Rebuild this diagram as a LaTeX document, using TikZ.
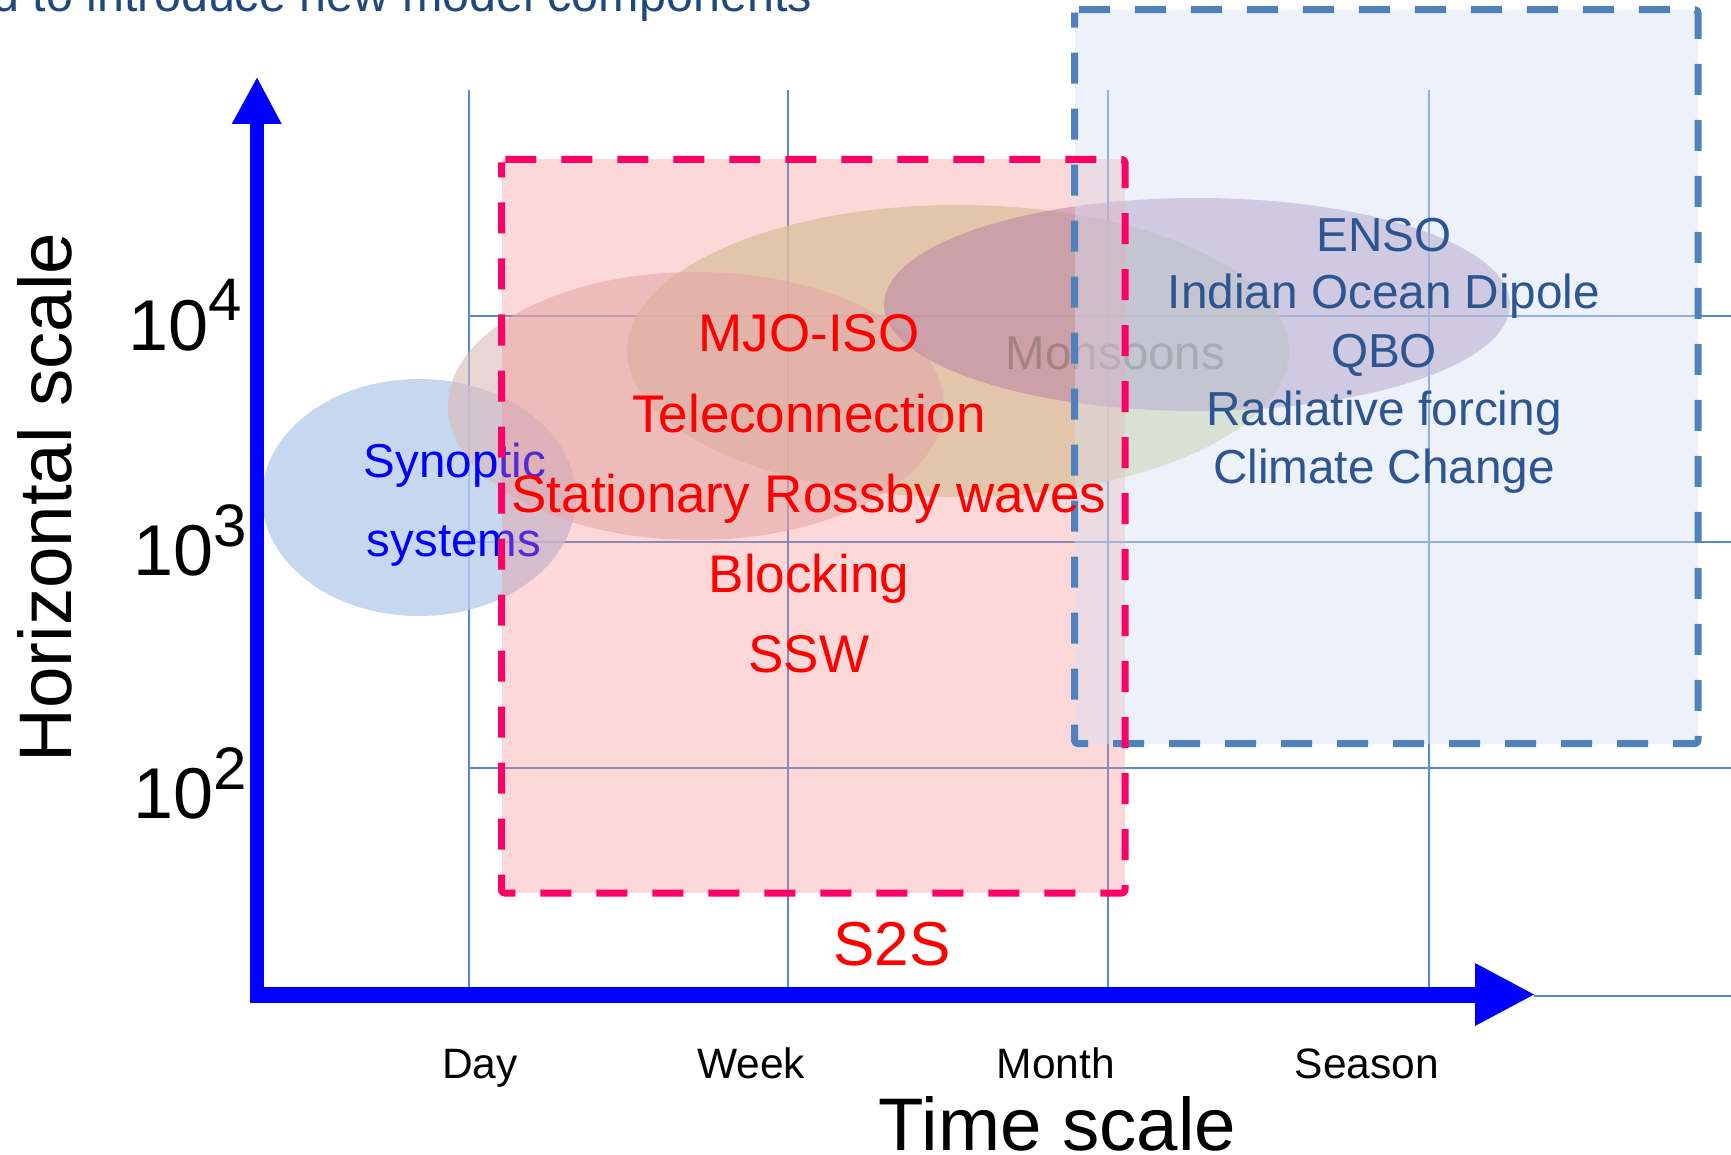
\documentclass[tikz,border=0pt]{standalone}
\usepackage{fontspec}
\setmainfont{Liberation Sans}
\definecolor{gridc}{RGB}{84,138,212}
\definecolor{axisc}{RGB}{0,0,255}
\definecolor{pinkline}{RGB}{255,0,102}
\definecolor{blueline}{RGB}{79,129,189}
\definecolor{pinkfill}{RGB}{249,135,135}
\definecolor{bluefill}{RGB}{215,224,242}
\definecolor{olivefill}{RGB}{205,221,172}
\definecolor{synfill}{RGB}{182,206,236}
\definecolor{rosefill}{RGB}{220,185,185}
\definecolor{purplefill}{RGB}{163,138,181}
\definecolor{darkblue}{RGB}{45,85,145}
\definecolor{topblue}{RGB}{31,73,125}
\definecolor{monsoongrey}{RGB}{128,128,128}
\newcommand{\myfs}[1]{\fontsize{#1}{#1}\selectfont}
\begin{document}
\begin{tikzpicture}[x=1pt,y=-1pt,
  every node/.style={inner sep=0pt,outer sep=0pt},
  gridline/.style={draw=gridc,line width=2.2pt},
  redtxt/.style={anchor=base,text=red,font=\myfs{53}},
  rbtxt/.style={anchor=base,text=darkblue,font=\myfs{47.7}},
  ticktxt/.style={anchor=base,text=black,font=\myfs{42.5}},
  titletxt/.style={anchor=base,text=black,font=\myfs{74.5}},
  exptxt/.style={anchor=base east,text=black,font=\myfs{72}},
  pinkbox/.style={draw=pinkline,line width=7pt,dash pattern=on 31pt off 25pt,dash phase=16pt,line join=round,rounded corners=3pt},
  bluebox/.style={draw=blueline,line width=7pt,dash pattern=on 31pt off 25pt,dash phase=16pt,line join=round,rounded corners=3pt}]
\useasboundingbox (0,0) rectangle (1731,1155);
\clip (0,0) rectangle (1731,1155);

% top (cut) caption
\node[anchor=base east,text=topblue,font=\myfs{48.5}] (toptext) at (812,12) {Need to introduce new model components};

% grid
\foreach \gx in {469,788,1108,1429} \draw[gridline] (\gx,90) -- (\gx,994);
\foreach \gy in {316,542,768} \draw[gridline] (469,\gy) -- (1731,\gy);
\coordinate (xend) at (1731,996);
\coordinate (xtipline) at (1534,996);
\draw[gridline] (xtipline) -- (xend);

% ellipses
\fill[olivefill,opacity=0.8] (958,351) ellipse [x radius=331pt, y radius=146pt];
\fill[synfill,opacity=0.8] (419,497.5) ellipse [x radius=157pt, y radius=118.5pt];
\fill[rosefill,opacity=0.6] (696,406) ellipse [x radius=248pt, y radius=134pt];
\fill[purplefill,opacity=0.6] (1197,304.5) ellipse [x radius=313pt, y radius=106.5pt];

% texts below the boxes
\node[anchor=base,text=monsoongrey,font=\myfs{47.5}] (monsoons) at (1115.5,370) {Monsoons};
\node[anchor=base,text=axisc,font=\myfs{47.5}] (synoptic) at (455,477) {Synoptic};
\node[anchor=base,text=axisc,font=\myfs{47.5}] (systems) at (454,556) {systems};

% boxes
\fill[pinkfill,fill opacity=0.325] (501.5,159.5) rectangle (1125,893);
\fill[bluefill,fill opacity=0.45] (1074.5,9.7) rectangle (1698,743.5);
\draw[bluebox] (1074.5,9.7) rectangle (1698,743.5);
\draw[pinkbox] (501.5,159.5) rectangle (1125,893);

% S2S texts
\node[redtxt] (mjo) at (809,352) {MJO-ISO};
\node[redtxt] (tele) at (809,432) {Teleconnection};
\node[redtxt] (srw) at (809,512) {Stationary Rossby waves};
\node[redtxt] (block) at (809,592) {Blocking};
\node[redtxt] (ssw) at (809,672) {SSW};
\node[anchor=base,text=red,font=\myfs{62}] (s2s) at (892,965) {S2S};

% seasonal texts
\node[rbtxt] (enso) at (1384,252) {ENSO};
\node[rbtxt] (iod) at (1384,309) {Indian Ocean Dipole};
\node[rbtxt] (qbo) at (1384,367) {QBO};
\node[rbtxt] (rad) at (1384,425) {Radiative forcing};
\node[rbtxt] (cc) at (1384,483) {Climate Change};

% axes
\draw[axisc,line width=14pt] (257,123.5) -- (257,1002.5);
\draw[axisc,line width=16pt] (250,994.5) -- (1476,994.5);
\fill[axisc] (231.7,124) -- (257,77.7) -- (281.7,124) -- cycle;
\fill[axisc] (1475,963) -- (1534,994.5) -- (1475,1026) -- cycle;

% axis labels
\node[exptxt] (e4) at (242,350) {10\raisebox{30pt}{\myfs{60}4}};
\node[exptxt] (e3) at (247,575) {10\raisebox{28.5pt}{\myfs{60}3}};
\node[exptxt] (e2) at (247,818) {10\raisebox{29pt}{\myfs{60}2}};
\node[titletxt,rotate=90] (hscale) at (71.7,497.5) {Horizontal scale};
\node[titletxt] (tscale) at (1057.5,1150) {Time scale};
\node[ticktxt] (day) at (480,1078) {Day};
\node[ticktxt] (week) at (751,1078) {Week};
\node[ticktxt] (month) at (1056,1078) {Month};
\node[ticktxt] (season) at (1367,1078) {Season};
\end{tikzpicture}
\end{document}
